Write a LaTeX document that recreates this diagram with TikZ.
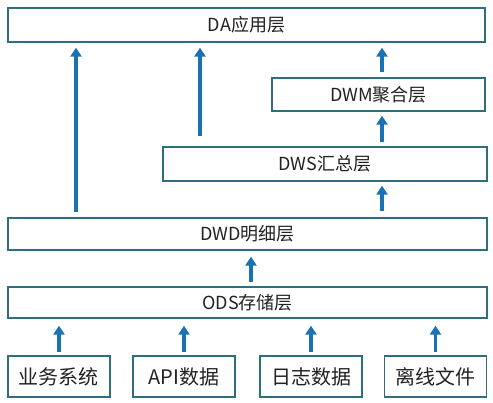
\documentclass[tikz,border=0pt]{standalone}
\usepackage{fontspec}
\setmainfont{Noto Sans CJK SC}
\usetikzlibrary{arrows.meta}
\definecolor{boxc}{HTML}{2F6E7C}
\definecolor{arrc}{HTML}{1A72B5}
\definecolor{txtc}{HTML}{222222}
\begin{document}
\begin{tikzpicture}[x=1pt,y=-1pt,
  layer/.style={draw=boxc,line width=1.3pt,fill=white,inner sep=0pt,text=txtc,font=\fontsize{18}{20}\selectfont},
  srcbox/.style={layer,font=\fontsize{20}{22}\selectfont},
  arr/.style={draw=arrc,line width=3.6pt,-{Triangle[width=11pt,length=9pt]}}]
\useasboundingbox (0,0) rectangle (493,403);
\node[layer,minimum width=477pt,minimum height=34pt] (da) at (246.5,25) {DA应用层};
\node[layer,minimum width=213pt,minimum height=33pt] (dwm) at (378.5,94.5) {DWM聚合层};
\node[layer,minimum width=324pt,minimum height=34pt] (dws) at (325,164) {DWS汇总层};
\node[layer,minimum width=479pt,minimum height=32pt] (dwd) at (247.5,234) {DWD明细层};
\node[layer,minimum width=479pt,minimum height=31pt] (ods) at (247.5,302.5) {ODS存储层};
\node[srcbox,minimum width=102pt,minimum height=41pt] (s1) at (59,376.5) {业务系统};
\node[srcbox,minimum width=102pt,minimum height=41pt] (s2) at (184,376.5) {API数据};
\node[srcbox,minimum width=102pt,minimum height=41pt] (s3) at (311,376.5) {日志数据};
\node[srcbox,minimum width=102pt,minimum height=41pt] (s4) at (435.5,376.5) {离线文件};
\coordinate (xa) at (76,0);
\coordinate (xb) at (200,0);
\coordinate (xc) at (382,0);
\coordinate (xd) at (251,0);
% sources to ODS
\foreach \s in {s1,s2,s3,s4}
  \draw[arr,shorten <=3pt,shorten >=7pt] (\s.north) -- (\s.north |- ods.south);
% ODS to DWD
\draw[arr,shorten <=4pt,shorten >=6pt] (ods.north -| xd) -- (dwd.south -| xd);
% DWD to DA
\draw[arr,shorten <=5pt,shorten >=5pt] (dwd.north -| xa) -- (da.south -| xa);
% DWS to DA
\draw[arr,shorten <=10pt,shorten >=5pt] (dws.north -| xb) -- (da.south -| xb);
% DWD to DWS
\draw[arr,shorten <=6pt,shorten >=4pt] (dwd.north -| xc) -- (dws.south -| xc);
% DWS to DWM
\draw[arr,shorten <=4pt,shorten >=4pt] (dws.north -| xc) -- (dwm.south -| xc);
% DWM to DA
\draw[arr,shorten <=5pt,shorten >=5pt] (dwm.north -| xc) -- (da.south -| xc);
\end{tikzpicture}
\end{document}
